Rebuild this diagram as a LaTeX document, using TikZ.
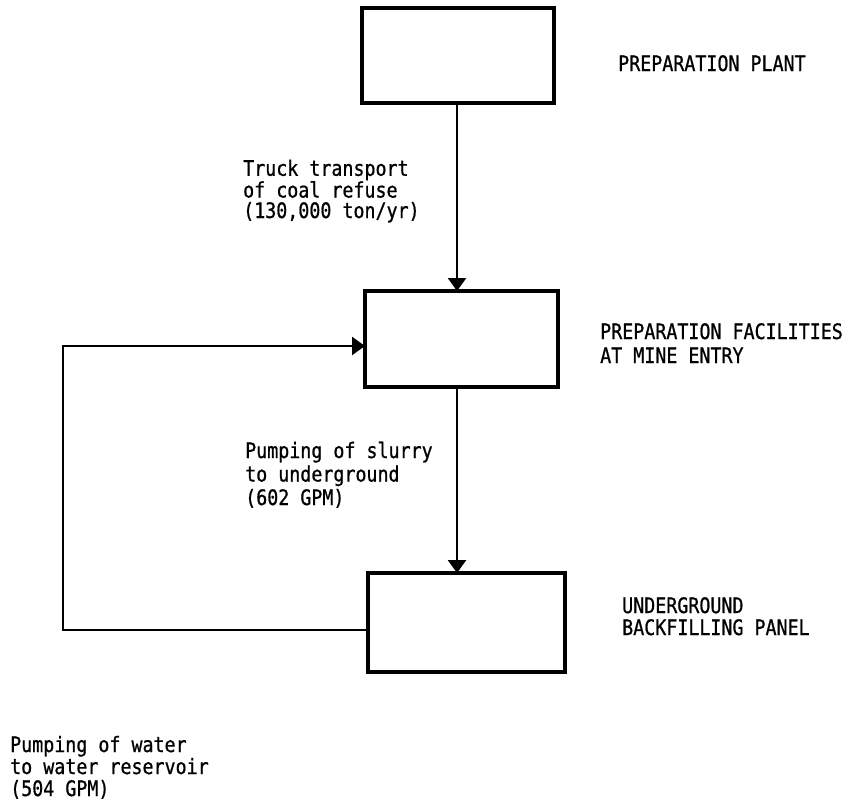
\documentclass[tikz,border=0pt]{standalone}
\usepackage{fontspec}
\setmainfont{DejaVu Sans Mono}[FakeStretch=0.86,FakeBold=0.8]
\usetikzlibrary{arrows.meta}
\begin{document}
\begin{tikzpicture}[x=1pt,y=-1pt,
  boxnode/.style={draw,line width=3.2pt,inner sep=0pt,minimum width=#1,rectangle},
  flow/.style={line width=2.6pt,-{Triangle[length=13pt,width=18pt]}},
  plain/.style={line width=2.6pt},
  lbl/.style={anchor=base west,inner sep=0pt,align=left,font=\fontsize{21.3}{#1}\selectfont},
  lbl/.default=22]
\useasboundingbox (0,0) rectangle (850,804);
\path[fill=white] (0,0) rectangle (850,804);
% boxes
\node[boxnode=192pt,minimum height=95pt] (b1) at (458,55.5) {};
\node[boxnode=193pt,minimum height=96pt] (b2) at (461.5,339) {};
\node[boxnode=197pt,minimum height=99pt] (b3) at (466.5,622.5) {};
% coordinates
\coordinate (t1) at (457,103);
\coordinate (t2) at (457,291);
\coordinate (s1) at (457,387);
\coordinate (s2) at (457,573);
\coordinate (r1) at (368,630);
\coordinate (c1) at (63,630);
\coordinate (c2) at (63,346);
\coordinate (r2) at (365,346);
% connectors
\draw[flow] (t1) -- (t2);
\draw[flow] (s1) -- (s2);
\draw[plain,line join=miter] (r1) -- (c1) -- (c2) -- (r2);
\draw[flow] (c2) -- (r2);
% labels (anchored at the baseline of the last line)
\node[lbl] (lp) at (618,71) {PREPARATION PLANT};
\node[lbl=20.5] (lt) at (243,218) {Truck transport\\of coal refuse\\(130,000 ton/yr)};
\node[lbl=24] (lf) at (600,363) {PREPARATION FACILITIES\\AT MINE ENTRY};
\node[lbl=23.5] (ls) at (245,505) {Pumping of slurry\\to underground\\(602 GPM)};
\node[lbl=22] (lu) at (622,635) {UNDERGROUND\\BACKFILLING PANEL};
\node[lbl=22] (lw) at (10,796) {Pumping of water\\to water reservoir\\(504 GPM)};
\end{tikzpicture}
\end{document}
